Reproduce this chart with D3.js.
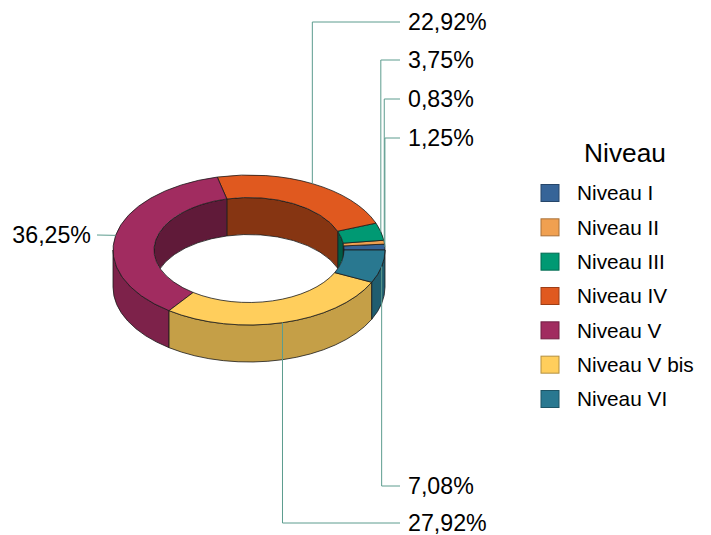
<!DOCTYPE html>
<html><head><meta charset="utf-8">
<script src="https://cdn.jsdelivr.net/npm/d3@7"></script>
<style>html,body{margin:0;padding:0;background:#fff}svg{display:block}text{font-family:"Liberation Sans",Arial,sans-serif;fill:#000}</style>
</head><body><svg id="c" width="711" height="535"></svg>
<script>
const categories = ["Niveau I","Niveau II","Niveau III","Niveau IV","Niveau V","Niveau V bis","Niveau VI"];
const values = [1.25,0.83,3.75,22.92,36.25,27.92,7.08];
const colors = ["#366498","#F0A050","#009973","#E0591F","#A12C60","#FFCE5C","#297890"];
const labelY = [138,99,60,22,235,523,486];
const legendTitle = "Niveau";

const cx=249, cy=250, R=136, Ry=75, r=95, ry=52.5, depth=37;
const svg=d3.select("#c");
const fmt=d3.formatLocale({decimal:",",thousands:" ",grouping:[3],currency:["","%"]}).format(".2f");
const pie=d3.pie().sort(null).startAngle(0).endAngle(2*Math.PI)(values);
const pt=(a,rx,rv,dy=0)=>[cx+rx*Math.cos(a),cy-rv*Math.sin(a)+dy];
const arcTo=(a0,a1,rx,rv,dy=0)=>{
  const p=pt(a1,rx,rv,dy),large=Math.abs(a1-a0)>Math.PI?1:0,sw=a1>a0?0:1;
  return `A${rx},${rv} 0 ${large} ${sw} ${p[0]},${p[1]}`;
};
const wall=(a0,a1,rx,rv)=>{
  const p=pt(a0,rx,rv),q=pt(a1,rx,rv,depth);
  return `M${p}${arcTo(a0,a1,rx,rv)}L${q}${arcTo(a1,a0,rx,rv,depth)}Z`;
};
const stroke="#1a1a1a";
svg.append("defs").append("clipPath").attr("id","hole").append("ellipse")
  .attr("cx",cx).attr("cy",cy).attr("rx",r).attr("ry",ry);

svg.append("g").attr("clip-path","url(#hole)").selectAll("path")
  .data(pie.filter(d=>d.startAngle<Math.PI)).join("path")
  .attr("d",d=>wall(d.startAngle,Math.min(d.endAngle,Math.PI),r,ry))
  .attr("fill",d=>d3.rgb(colors[d.index]).darker(1.45))
  .attr("stroke",stroke).attr("stroke-width",.8);

svg.append("g").selectAll("path")
  .data(pie.filter(d=>d.endAngle>Math.PI)).join("path")
  .attr("d",d=>wall(Math.max(d.startAngle,Math.PI),d.endAngle,R,Ry))
  .attr("fill",d=>d3.rgb(colors[d.index]).darker(.72))
  .attr("stroke",stroke).attr("stroke-width",.8);

svg.append("g").selectAll("path").data(pie).join("path")
  .attr("d",d=>{
    const p=pt(d.startAngle,R,Ry),q=pt(d.endAngle,r,ry);
    return `M${p}${arcTo(d.startAngle,d.endAngle,R,Ry)}L${q}${arcTo(d.endAngle,d.startAngle,r,ry)}Z`;
  })
  .attr("fill",d=>colors[d.index])
  .attr("stroke",stroke).attr("stroke-width",.8);

const labX=400, textX=408;
const lab=svg.append("g");
pie.forEach((d,i)=>{
  const m=(d.startAngle+d.endAngle)/2, p=pt(m,R,Ry), left=p[0]<cx-60;
  const pts=left?[p,[97,labelY[i]]]:[p,[p[0],labelY[i]],[labX,labelY[i]]];
  lab.append("path").attr("d",d3.line()(pts)).attr("fill","none")
    .attr("stroke","#5c9c8e").attr("stroke-width",1);
  lab.append("text").attr("x",left?91:textX).attr("y",labelY[i]).attr("dy","0.35em")
    .attr("text-anchor",left?"end":"start").attr("font-size",23.2)
    .text(fmt(values[i])+"%");
});

const lg=svg.append("g");
lg.append("text").attr("x",625).attr("y",153).attr("dy","0.35em").attr("text-anchor","middle")
  .attr("font-size",26.3).text(legendTitle);
const ly=d3.scalePoint().domain(categories).range([193,399]);
categories.forEach((c,i)=>{
  lg.append("rect").attr("x",541).attr("y",ly(c)-8.5).attr("width",18).attr("height",17)
    .attr("fill",colors[i]).attr("stroke",d3.rgb(colors[i]).darker(1)).attr("stroke-width",1);
  lg.append("text").attr("x",577).attr("y",ly(c)).attr("dy","0.35em").attr("font-size",20.8).text(c);
});
</script></body></html>
